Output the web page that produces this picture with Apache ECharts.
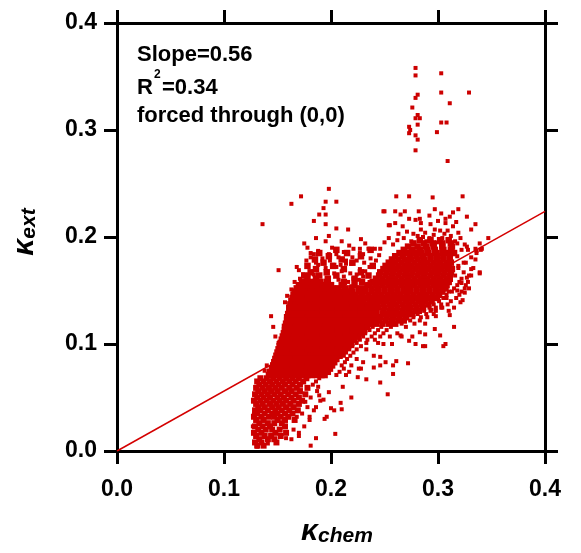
<!DOCTYPE html>
<html>
<head>
<meta charset="utf-8">
<script src="https://cdn.jsdelivr.net/npm/echarts@6/dist/echarts.min.js"></script>
<style>
html,body{margin:0;padding:0;background:#fff;}
#chart{width:581px;height:553px;}
</style>
</head>
<body>
<div id="chart"></div>
<script>
// ---- data (values in thousandths of kappa) ----
// rows: [y, x1, x2, ...]
const lowRows = [
 [5, 131,137],
 [8, 129,135,149],
 [11, 133,141,147],
 [14, 130,138,144,153],
 [17, 128,135,148,158],
 [20, 132,139,145,152],
 [23, 129,136,143,157],
 [26, 133,141,147,154],
 [29, 130,137,150,157,166],
 [32, 128,135,142,147,153,160],
 [35, 131,138,145,150,157,164],
 [38, 129,134,141,148,154,161,169],
 [41, 132,138,145,151,158,165],
 [44, 130,136,143,149,155,162,170],
 [47, 128,134,140,146,152,158,165,173],
 [50, 131,137,143,150,156,163,170],
 [53, 129,135,141,147,153,160,167,176],
 [56, 132,138,144,150,157,163,171],
 [59, 130,136,142,148,154,161,168,178],
 [62, 133,139,145,151,157,164,171],
 [65, 131,137,143,149,155,161,167,174],
 [68, 134,140,146,152,158,164,170,177]
];
const coreRows = [
 [71, 142,146,151,155,160,164,169,173,178,182,187,191,194],
 [74, 143,147,152,156,161,165,170,174,179,183,188,192,197],
 [77, 145,149,154,158,163,167,172,176,181,185,190,194,199],
 [80, 146,150,155,159,164,168,173,177,182,186,191,195,199,201],
 [83, 147,151,156,160,165,169,174,178,183,187,192,196,201,203],
 [86, 148,152,157,161,166,170,175,179,184,188,193,197,202,205],
 [89, 149,153,158,162,167,171,176,180,185,189,194,198,203,208],
 [92, 150,154,159,163,168,172,177,181,186,190,195,199,204,208,210],
 [95, 151,155,160,164,169,173,178,182,187,191,196,200,205,209,213],
 [98, 152,156,161,165,170,174,179,183,188,192,197,201,206,210,214,216],
 [101, 153,157,162,166,171,175,180,184,189,193,198,202,207,211,215,219],
 [104, 154,158,163,167,172,176,181,185,190,194,199,203,208,212,217,222],
 [107, 155,159,164,168,173,177,182,186,191,195,200,204,209,213,218,222,225],
 [110, 156,160,165,169,174,178,183,187,192,196,201,205,210,214,219,223,228],
 [113, 157,161,166,170,175,179,184,188,193,197,202,206,211,215,220,224,229,231],
 [116, 157,161,166,170,175,179,184,188,193,197,202,206,211,215,220,224,229,234],
 [119, 158,162,167,171,176,180,185,189,194,198,203,207,212,216,221,225,230,234,237],
 [122, 159,163,168,172,177,181,186,190,195,199,204,208,213,217,222,226,231,235,240],
 [125, 159,163,168,172,177,181,186,190,195,199,204,208,213,217,222,226,231,235,240,241],
 [128, 160,164,169,173,178,182,187,191,196,200,205,209,214,218,223,227,232,236,241],
 [131, 161,165,170,174,179,183,188,192,197,201,206,210,215,219,224,228,233,237,242],
 [134, 161,165,170,174,179,183,188,192,197,201,206,210,215,219,224,228,233,237,242,244],
 [137, 162,166,171,175,180,184,189,193,198,202,207,211,216,220,225,229,234,238,243],
 [140, 163,167,172,176,181,185,190,194,199,203,208,212,217,221,226,230,236],
 [143, 164,168,173,177,182,186,191,195,200,204,209,213,218,222,228],
 [146, 165,169,174,178,183,187,192,196,201,205,210,214,218],
 [149, 166,170,175,179,184,188,193,197,202,206,210],
 [152, 168,172,177,181,186,190,195,199,202],
 [155, 170,174,179,183,188,192,196],
 [158, 173,177,182,186,190]
];
const bandRows = [
 [119, 242,248,254,260],
 [122, 245,251,257,263,268],
 [125, 246,252,258,264,270],
 [128, 248,254,260,266,272,276],
 [131, 249,255,261,267,273,279,282],
 [134, 250,256,262,268,274,280,286],
 [137, 249,255,261,267,273,279,285,291],
 [140, 240,246,252,258,264,270,276,282,288,294],
 [143, 233,239,245,251,257,263,269,275,281,287,293,299],
 [146, 223,229,235,241,247,253,259,265,271,277,283,289,295,301],
 [149, 215,220,226,232,238,244,250,256,262,268,274,280,286,292,298,304],
 [152, 207,213,219,226,232,238,244,250,256,262,268,274,280,286,292,298,304,307],
 [155, 200,210,222,236,242,248,254,260,266,272,278,284,290,296,302,308],
 [158, 196,212,229,239,245,251,257,263,269,275,281,287,293,299,305,310],
 [161, 178,186,197,222,242,248,254,260,266,272,278,284,290,296,302,308,311],
 [164, 175,189,205,235,245,251,257,263,269,275,281,287,293,299,305,311],
 [167, 181,196,228,246,252,258,264,270,276,282,288,294,300,306,312],
 [170, 186,212,249,255,261,267,273,279,285,291,297,303,309,313],
 [173, 178,202,239,251,257,263,269,275,281,287,293,299,305,310],
 [176, 193,220,254,260,266,272,278,284,290,296,302,308,312],
 [179, 185,210,257,263,269,275,281,287,293,299,305,311],
 [182, 198,228,260,267,274,280,286,293,299,305,311],
 [185, 189,215,264,271,278,284,291,298,304,310,315],
 [188, 205,237,268,276,283,290,297,305,312],
 [191, 272,281,289,296,304,313],
 [194, 277,287,295,304,312],
 [197, 283,293,302,310]
];
// individual points [x, y]
const coreTails = [
 [205,71],[214,71],[208,74],[212,77],[226,77],[210,80],[219,80],[213,83],[230,83],[215,86],
 [224,86],[212,89],[218,89],[240,89],[214,92],[221,92],[217,95],[224,95],[233,95],[220,98],
 [228,98],[224,101],[233,101],[244,101],[227,104],[234,104],[241,104],[230,107],[238,107],[246,107],
 [255,107],[232,110],[241,110],[249,110],[262,110],[236,113],[244,113],[252,113],[239,116],[247,116],
 [256,116],[270,116],[266,119],[278,119],[274,122],[283,122],[277,125],[284,125],[290,125],[281,128],
 [289,128],[296,128],[287,131],[293,131],[298,131],[310,131],[292,134],[298,134],[304,134],[296,137],
 [303,137],[309,137],[301,140],[312,140],[305,143],[308,143],[317,143],[308,146],[320,146],[310,149],
 [313,149],[322,149],[315,152],[325,152],[318,155],[326,155],[320,158],[328,158],[322,161],[316,164],
 [329,164],[324,167],[339,167],[331,170],[319,173],[326,176],[335,179],[318,182],[336,185],[322,188],
 [340,188],[327,191],[318,194],
 [216,158],[221,161],[226,160],[230,163],[224,165],[218,166],[232,168],[212,163],[207,160],[203,166],
 [227,170],[236,158],[210,168],[233,156],[219,154],[228,152],[212,155]
];
const sparseUpper = [
 [198,245],[172,238],[163,231],[195,233],[205,233],[193,227],[189,221],[195,221],[184,215],[136,212],
 [195,212],[205,208],[216,207],[249,224],[254,211],[198,201],[186,199],[195,196],[175,194],[228,198],
 [232,194],[217,192],[221,189],[227,189],[235,189],[241,189],[246,189],[188,187],[181,185],[184,184],
 [181,181],[198,184],[205,184],[227,185],[230,184],[237,180],[186,176],[188,174],[202,174],[205,172],
 [209,174],[214,178],[214,175],[219,175],[195,171],[151,169],[170,169],[174,165],[179,165],[184,165],
 [144,126],[146,116],[151,101],[148,107],[150,85],[140,80],[138,75],
 [168,172],[177,178],[192,180],[199,178],[207,181],[212,186],[220,181],[224,178],[231,176],[236,172],
 [242,178],[245,183],[171,161],[166,158],[163,151],[159,145],[157,139],[178,190],[210,196],[201,190],
 [193,176]
];
const sparseBandTop = [
 [261,238],[273,238],[295,237],[323,238],[250,224],[260,224],[269,224],[265,221],[297,226],[319,226],
 [273,217],[279,216],[283,217],[307,217],[311,219],[255,211],[267,210],[297,207],[302,206],[309,206],
 [331,207],[263,203],[277,203],[347,199],[339,194],[335,189],[341,189],[336,187],[319,204],[286,200],
 [293,212],[289,196],[307,213],[314,210],[300,215],[327,219],[335,212],
 [250,195],[254,199],[258,193],[262,197],[268,199],[271,205],[275,196],[281,201],[284,207],[288,204],
 [292,199],[296,202],[299,195],[304,199],[306,203],[312,201],[316,196],[321,199],[325,193],[328,188],
 [331,181],[324,176],[319,171],[327,162],[322,157],[318,150],[260,213],[284,213],[292,220],[314,223],
 [303,222],[317,214],[282,224]
];
const sparseLower = [
 [272,82],[261,84],[258,80],[258,72],[251,83],[246,88],[246,80],[240,78],[233,67],[225,69],
 [228,77],[246,64],[253,53],[219,50],[211,60],[217,74],[210,39],[204,16],[209,45],[200,40],
 [203,38],[196,32],[198,55],[193,48],[189,52],[188,60],[186,41],[194,30],[186,12],[181,5],
 [180,32],[176,46],[170,14],[158,12],[147,11],[141,7],[131,4],[127,23],[128,35],
 [163,11],[170,17],[165,20],[175,23],[180,29],[168,32],[173,35],[184,38],[178,41],[190,47],
 [181,50],[187,56],[178,59],[183,62],[186,65],[189,68],
 [307,100],[302,108],[297,114],[288,109],[288,98],[279,100],[273,103],[265,108],[257,100],[249,100],
 [266,107],[276,107],[288,119],[283,111],[298,126],[294,132],[303,134],[315,116],[311,127],[315,134],
 [323,141],[321,139],[325,148],[329,152],[331,164],[333,171],[339,166],[305,98],[286,98]
];
const outliers = [
 [279,358],[279,351],[303,353],[281,333],[279,330],[303,335],[329,335],[311,325],[276,321],[281,314],
 [279,311],[283,311],[281,305],[273,303],[274,300],[273,297],[303,307],[308,307],[299,298],[279,295],
 [281,291],[279,281],[309,271]
];
const slope = 0.56;
const fitX = [0, 0.4];

// ---- build ----
const toPts = rows => {
  const out = [];
  rows.forEach(r => { for (let i = 1; i < r.length; i++) out.push([r[i] / 1000, r[0] / 1000]); });
  return out;
};
const lowPts = toPts(lowRows);
const densePts = toPts(coreRows).concat(toPts(bandRows));
const singlePts = [];
[coreTails, sparseUpper, sparseBandTop, sparseLower, outliers].forEach(list => list.forEach(p => singlePts.push([p[0] / 1000, p[1] / 1000])));
const fitLine = fitX.map(x => [x, slope * x]);

const FONT = '"Liberation Sans", Arial, sans-serif';
const axisCommon = {
  type: 'value', min: 0, max: 0.4, interval: 0.1,
  axisLine: { show: true, onZero: false, lineStyle: { color: '#000', width: 3 } },
  axisTick: { show: true, inside: false, length: 13, lineStyle: { color: '#000', width: 3 } },
  splitLine: { show: false }
};
const labelStyle = { color: '#000', fontSize: 23, fontWeight: 'bold', fontFamily: FONT, formatter: v => v.toFixed(1) };
const RED = '#cc0000';

const chart = echarts.init(document.getElementById('chart'), null, { renderer: 'canvas' });
chart.setOption({
  animation: false,
  backgroundColor: '#fff',
  grid: { left: 117, right: 36, top: 23, bottom: 102, containLabel: false },
  xAxis: [
    Object.assign({}, axisCommon, { position: 'bottom', axisLabel: Object.assign({ margin: 27 }, labelStyle) }),
    Object.assign({}, axisCommon, { position: 'top', axisLabel: { show: false } })
  ],
  yAxis: [
    Object.assign({}, axisCommon, { position: 'left', axisLabel: Object.assign({ margin: 20 }, labelStyle) }),
    Object.assign({}, axisCommon, { position: 'right', axisLabel: { show: false } })
  ],
  series: [
    { type: 'line', data: fitLine, showSymbol: false, symbol: 'none', z: 1,
      lineStyle: { color: '#d40000', width: 1.5 } },
    { type: 'scatter', data: lowPts, symbol: 'rect', symbolSize: 6, z: 2,
      itemStyle: { color: RED, opacity: 1 } },
    { type: 'scatter', data: densePts, symbol: 'rect', symbolSize: 6.5, z: 2,
      itemStyle: { color: RED, opacity: 1 } },
    { type: 'scatter', data: singlePts, symbol: 'rect', symbolSize: 4, z: 2,
      itemStyle: { color: RED, opacity: 1 } }
  ],
  graphic: [
    { type: 'text', left: 137, top: 44, style: { text: 'Slope=0.56', font: 'bold 22px ' + FONT, fill: '#000' } },
    { type: 'text', left: 137, top: 77, style: { text: 'R', font: 'bold 22px ' + FONT, fill: '#000' } },
    { type: 'text', left: 154, top: 69, style: { text: '2', font: 'bold 12px ' + FONT, fill: '#000' } },
    { type: 'text', left: 162, top: 77, style: { text: '=0.34', font: 'bold 22px ' + FONT, fill: '#000' } },
    { type: 'text', left: 137, top: 105, style: { text: 'forced through (0,0)', font: 'bold 22px ' + FONT, fill: '#000' } },
    { type: 'text', x: 337, y: 532,
      style: { text: '{k|κ}{s|chem}', align: 'center', verticalAlign: 'middle',
        rich: { k: { font: 'italic bold 30px ' + FONT, fill: '#000', verticalAlign: 'bottom' },
                s: { font: 'italic bold 21px ' + FONT, fill: '#000', verticalAlign: 'bottom' } } } },
    { type: 'text', x: 25, y: 232, rotation: Math.PI / 2,
      style: { text: '{k|κ}{s|ext}', align: 'center', verticalAlign: 'middle',
        rich: { k: { font: 'italic bold 30px ' + FONT, fill: '#000', verticalAlign: 'bottom' },
                s: { font: 'italic bold 21px ' + FONT, fill: '#000', verticalAlign: 'bottom' } } } }
  ]
});
</script>
</body>
</html>
